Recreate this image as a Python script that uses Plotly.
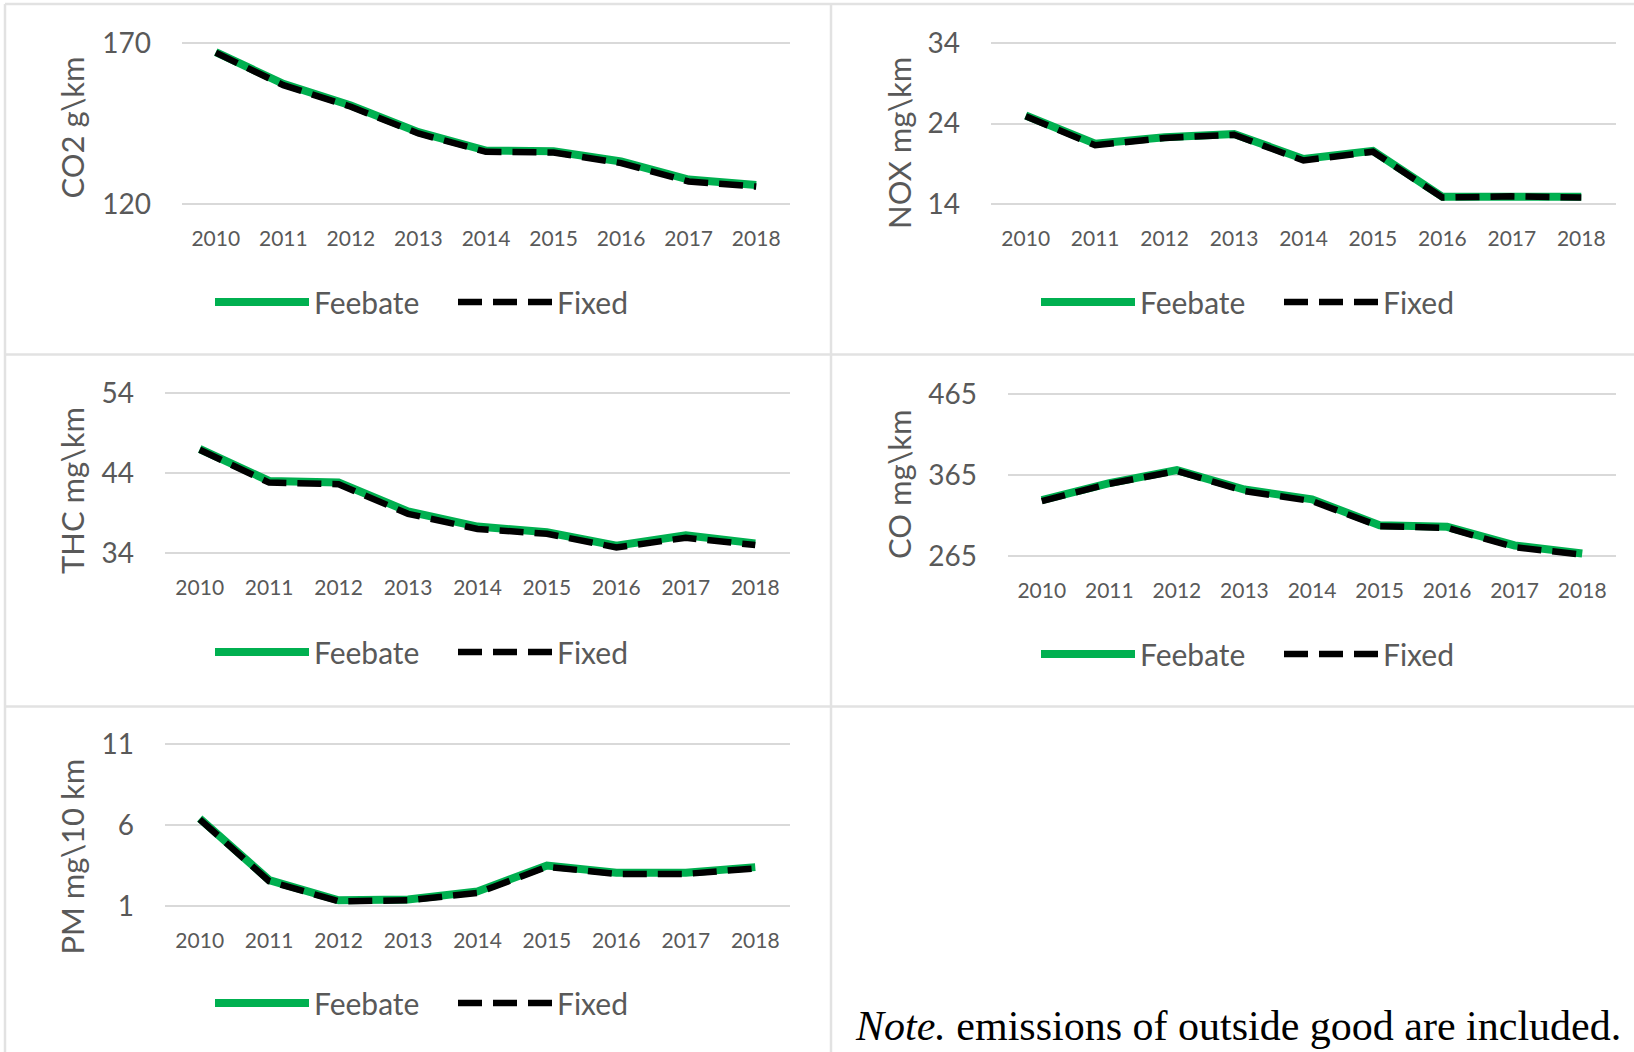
import plotly.graph_objects as go

W, H = 1634, 1052

years = ["2010", "2011", "2012", "2013", "2014", "2015", "2016", "2017", "2018"]

co2_feebate = [167.2, 157.3, 150.6, 142.3, 136.6, 136.4, 133.2, 127.6, 125.9]
co2_fixed = [167.0, 156.9, 150.2, 141.9, 136.2, 136.0, 132.7, 127.0, 125.4]
co2_ticks = [120, 170]

nox_feebate = [25.0, 21.5, 22.3, 22.7, 19.6, 20.6, 14.9, 15.0, 14.9]
nox_fixed = [24.9, 21.3, 22.2, 22.6, 19.4, 20.5, 14.8, 14.95, 14.8]
nox_ticks = [14, 24, 34]

thc_feebate = [47.0, 43.0, 42.8, 39.2, 37.3, 36.6, 34.9, 36.2, 35.2]
thc_fixed = [46.9, 42.8, 42.6, 38.9, 37.0, 36.4, 34.7, 35.9, 35.0]
thc_ticks = [34, 44, 54]

co_feebate = [334.0, 355.0, 371.0, 347.0, 335.0, 303.0, 301.0, 278.0, 268.0]
co_fixed = [332.8, 354.2, 370.0, 345.2, 332.8, 301.8, 299.7, 275.8, 266.7]
co_ticks = [265, 365, 465]

pm_feebate = [6.4, 2.6, 1.35, 1.4, 1.9, 3.5, 3.05, 3.05, 3.4]
pm_fixed = [6.35, 2.53, 1.29, 1.35, 1.81, 3.42, 2.98, 2.98, 3.32]
pm_ticks = [1, 6, 11]

titles = ["CO2 g\\km", "NOX mg\\km", "THC mg\\km", "CO mg\\km", "PM mg\\10 km"]
note_text = "<i>Note.</i> emissions of outside good are included."

GREEN = "#00B050"
GREY_TXT = "#595959"
GRID = "#D9D9D9"
BORDER = "#E2E2E2"
FONT = "Lato"


def px_x(p):
    return p / W


def px_y(p):
    return 1 - p / H


# plot area (x0, x1, y_top, y_bottom) in pixels, title centre x / top y, legend left x / centre y
panels = [
    dict(f=co2_feebate, x=co2_fixed, t=co2_ticks, box=(182, 790, 43, 204), tx=71.5, tt=55, lx=220, ly=302),
    dict(f=nox_feebate, x=nox_fixed, t=nox_ticks, box=(991, 1616, 43, 204), tx=899, tt=55, lx=1046, ly=302),
    dict(f=thc_feebate, x=thc_fixed, t=thc_ticks, box=(165, 790, 393, 553), tx=71.5, tt=405, lx=220, ly=652),
    dict(f=co_feebate, x=co_fixed, t=co_ticks, box=(1008, 1616, 394, 556), tx=899, tt=407, lx=1046, ly=654),
    dict(f=pm_feebate, x=pm_fixed, t=pm_ticks, box=(165, 790, 744, 906), tx=71.5, tt=757, lx=220, ly=1003),
]

fig = go.Figure()
layout = dict(
    width=W, height=H,
    margin=dict(l=0, r=0, t=0, b=0, autoexpand=False),
    paper_bgcolor="white", plot_bgcolor="white",
    font=dict(family=FONT, color=GREY_TXT),
    annotations=[], shapes=[],
)

for i, p in enumerate(panels, start=1):
    sfx = "" if i == 1 else str(i)
    xa, ya = "x" + sfx, "y" + sfx
    lg = "legend" if i == 1 else "legend" + str(i)
    fig.add_trace(go.Scatter(
        x=years, y=p["f"], mode="lines", name="Feebate",
        line=dict(color=GREEN, width=8), xaxis=xa, yaxis=ya, legend=lg,
    ))
    fig.add_trace(go.Scatter(
        x=years, y=p["x"], mode="lines", name="Fixed",
        line=dict(color="black", width=6.5, dash="24px,11px"), xaxis=xa, yaxis=ya, legend=lg,
    ))
    x0, x1, yt, yb = p["box"]
    lo, hi = p["t"][0], p["t"][-1]
    pad_px = 3
    pad = (hi - lo) * pad_px / (yb - yt)
    layout["xaxis" + sfx] = dict(
        domain=[px_x(x0), px_x(x1)], anchor=ya, type="category",
        range=[-0.5, len(years) - 0.5], showgrid=False, zeroline=False, showline=False,
        ticks="", ticklabelstandoff=20 - pad_px, tickfont=dict(family=FONT, size=21, color=GREY_TXT),
        fixedrange=True,
    )
    layout["yaxis" + sfx] = dict(
        domain=[px_y(yb + pad_px), px_y(yt - pad_px)], anchor=xa,
        range=[lo - pad, hi + pad], tickvals=p["t"],
        showgrid=True, gridcolor=GRID, gridwidth=1.5, zeroline=False, showline=False,
        ticks="", ticklabelstandoff=30, tickfont=dict(family=FONT, size=28, color=GREY_TXT),
        fixedrange=True,
    )
    layout[lg] = dict(
        orientation="h", x=px_x(p["lx"] - 10), xanchor="left", y=px_y(p["ly"]), yanchor="middle",
        font=dict(family=FONT, size=30, color=GREY_TXT), itemwidth=94,
        entrywidth=134, entrywidthmode="pixels",
        bgcolor="rgba(0,0,0,0)",
    )
    layout["annotations"].append(dict(
        text=titles[i - 1], textangle=-90, xref="paper", yref="paper",
        x=px_x(p["tx"]), xanchor="center", y=px_y(p["tt"]), yanchor="top",
        showarrow=False, font=dict(family=FONT, size=31, color=GREY_TXT),
    ))

layout["annotations"].append(dict(
    text=note_text, xref="paper", yref="paper", x=px_x(853), xanchor="left",
    y=px_y(1051), yanchor="bottom", showarrow=False,
    font=dict(family="Liberation Serif", size=42, color="black"),
))

# cell borders of the surrounding table
for (xa0, ya0, xa1, ya1) in [(5, 4, W, 4), (5, 4, 5, H), (831, 4, 831, H), (5, 354.5, W, 354.5), (5, 706.5, W, 706.5)]:
    layout["shapes"].append(dict(
        type="line", xref="paper", yref="paper",
        x0=px_x(xa0), y0=px_y(ya0), x1=px_x(xa1), y1=px_y(ya1),
        line=dict(color=BORDER, width=2.5), layer="below",
    ))

fig.update_layout(**layout)
fig.write_html(
    "out.html",
    config={"displayModeBar": False},
    post_script="document.body.style.margin='0';",
)
